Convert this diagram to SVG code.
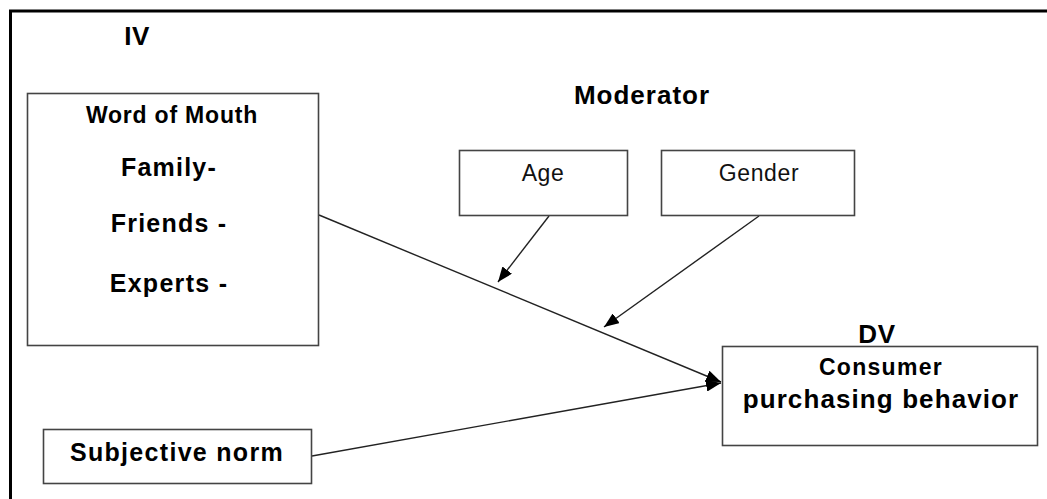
<svg xmlns="http://www.w3.org/2000/svg" width="1047" height="499" viewBox="0 0 1047 499">
<defs>
<style>
.box{fill:#fff;stroke:#444;stroke-width:1.6}
.b{font-family:"Liberation Sans",Arial,sans-serif;font-weight:bold;fill:#000;text-anchor:middle}
.r{font-family:"Liberation Sans",Arial,sans-serif;fill:#111;text-anchor:middle}
.ln{stroke:#222;stroke-width:1.4;fill:none}
</style>
<marker id="ah" markerUnits="userSpaceOnUse" markerWidth="16" markerHeight="12" refX="15" refY="6" orient="auto">
<path d="M0,0 L15,6 L0,12 z" fill="#000"/>
</marker>
</defs>
<rect width="1047" height="499" fill="#fff"/>
<g id="frame">
<line x1="9" y1="11" x2="1047" y2="11" stroke="#000" stroke-width="3"/>
<line x1="10.5" y1="10" x2="10.5" y2="499" stroke="#000" stroke-width="3"/>
</g>
<g id="labels">
<text class="b" x="137" y="45" font-size="26" letter-spacing="0.5">IV</text>
<text class="b" x="642" y="104" font-size="26" letter-spacing="1">Moderator</text>
<text class="b" x="877" y="343" font-size="26" letter-spacing="0.6">DV</text>
</g>
<g id="connectors">
<line class="ln" x1="319" y1="215" x2="721" y2="382" marker-end="url(#ah)"/>
<line class="ln" x1="312" y1="456" x2="721" y2="383" marker-end="url(#ah)"/>
<line class="ln" x1="549" y1="216" x2="498" y2="282" marker-end="url(#ah)"/>
<line class="ln" x1="759" y1="216" x2="604" y2="327" marker-end="url(#ah)"/>
</g>
<g id="node-wom">
<rect class="box" x="27.5" y="93.5" width="291" height="252"/>
<text class="b" x="172" y="123" font-size="23" letter-spacing="0.8">Word of Mouth</text>
<text class="b" x="169" y="176" font-size="25" letter-spacing="1.2">Family-</text>
<text class="b" x="169" y="232" font-size="25" letter-spacing="1.2">Friends -</text>
<text class="b" x="169" y="292" font-size="25" letter-spacing="1.3">Experts -</text>
</g>
<g id="node-age">
<rect class="box" x="459.5" y="150.5" width="168" height="65"/>
<text class="r" x="543" y="181" font-size="23" letter-spacing="0.6">Age</text>
</g>
<g id="node-gender">
<rect class="box" x="661.5" y="150.5" width="193" height="65"/>
<text class="r" x="759" y="181" font-size="23" letter-spacing="0.6">Gender</text>
</g>
<g id="node-dv">
<rect class="box" x="722.5" y="346.5" width="315" height="99"/>
<text class="b" x="881" y="375" font-size="23" letter-spacing="1.3">Consumer</text>
<text class="b" x="881" y="408" font-size="26" letter-spacing="1.1">purchasing behavior</text>
</g>
<g id="node-sn">
<rect class="box" x="43.5" y="429.5" width="268" height="54"/>
<text class="b" x="177" y="461" font-size="25" letter-spacing="1.3">Subjective norm</text>
</g>
</svg>
